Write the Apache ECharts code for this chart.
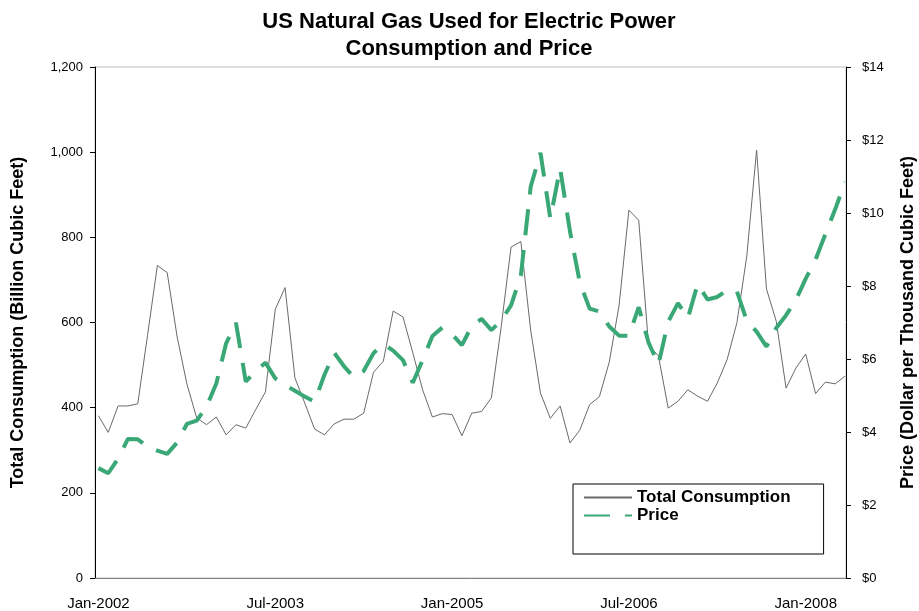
<!DOCTYPE html>
<html>
<head>
<meta charset="utf-8">
<script src="https://cdn.jsdelivr.net/npm/echarts@6/dist/echarts.min.js"></script>
<style>
html,body{margin:0;padding:0;background:#fff;}
#chart{width:919px;height:611px;}
</style>
</head>
<body>
<div id="chart"></div>
<script>
// Months Jan-2002 .. May-2008
const months = [
 'Jan-2002','Feb-2002','Mar-2002','Apr-2002','May-2002','Jun-2002','Jul-2002','Aug-2002','Sep-2002','Oct-2002','Nov-2002','Dec-2002',
 'Jan-2003','Feb-2003','Mar-2003','Apr-2003','May-2003','Jun-2003','Jul-2003','Aug-2003','Sep-2003','Oct-2003','Nov-2003','Dec-2003',
 'Jan-2004','Feb-2004','Mar-2004','Apr-2004','May-2004','Jun-2004','Jul-2004','Aug-2004','Sep-2004','Oct-2004','Nov-2004','Dec-2004',
 'Jan-2005','Feb-2005','Mar-2005','Apr-2005','May-2005','Jun-2005','Jul-2005','Aug-2005','Sep-2005','Oct-2005','Nov-2005','Dec-2005',
 'Jan-2006','Feb-2006','Mar-2006','Apr-2006','May-2006','Jun-2006','Jul-2006','Aug-2006','Sep-2006','Oct-2006','Nov-2006','Dec-2006',
 'Jan-2007','Feb-2007','Mar-2007','Apr-2007','May-2007','Jun-2007','Jul-2007','Aug-2007','Sep-2007','Oct-2007','Nov-2007','Dec-2007',
 'Jan-2008','Feb-2008','Mar-2008','Apr-2008','May-2008'
];
// Total consumption, billion cubic feet
const consumption = [
 381,342,404,404,409,570,734,717,568,456,376,360,
 378,336,360,352,395,437,631,682,470,411,350,336,
 362,373,373,387,483,509,627,613,529,442,378,386,
 384,334,387,391,423,590,777,790,582,434,375,404,
 317,347,407,426,507,640,864,840,547,522,399,415,
 442,427,415,458,513,600,756,1005,679,603,446,493,
 526,433,460,456,474
];
// Price, dollars per thousand cubic feet
const price = [
 3.01,2.87,3.27,3.81,3.80,3.60,3.49,3.40,3.71,4.22,4.31,4.69,
 5.33,6.43,6.99,5.38,5.67,5.90,5.47,5.29,5.13,4.97,4.83,5.56,
 6.17,5.80,5.50,5.67,6.16,6.41,6.23,5.97,5.35,5.97,6.63,6.86,
 6.68,6.38,6.90,7.10,6.79,7.05,7.47,8.28,10.72,11.65,9.85,11.22,
 9.50,8.10,7.38,7.30,6.89,6.64,6.64,7.42,6.45,5.85,7.02,7.53,
 7.12,8.05,7.63,7.70,7.89,7.85,7.05,6.75,6.34,6.85,7.20,7.62,
 8.20,8.72,9.42,10.10,10.85
];
// X tick labels (month indices)
const xTickIdx = [0,18,36,54,72];
const xTickLabels = ['Jan-2002','Jul-2003','Jan-2005','Jul-2006','Jan-2008'];

const consData = consumption.map((v,i)=>[i,v]);
const priceData = price.map((v,i)=>[i,v]);

const FONT = "'Liberation Sans', Arial, sans-serif";
const chart = echarts.init(document.getElementById('chart'), null, {renderer:'canvas'});
chart.setOption({
  animation:false,
  backgroundColor:'#fff',
  textStyle:{fontFamily:FONT},
  title:{
    text:'US Natural Gas Used for Electric Power\nConsumption and Price',
    left:469, top:8, padding:0, textAlign:'center',
    textStyle:{fontFamily:FONT, fontSize:22, fontWeight:'bold', color:'#000', lineHeight:27}
  },
  grid:{left:95, right:73, top:67, bottom:33, show:true, borderColor:'#c0c0c0', borderWidth:1, containLabel:false, outerBoundsMode:'none'},
  legend:{
    orient:'vertical', left:573, top:484,
    borderColor:'#000', borderWidth:1, borderRadius:0,
    padding:[5,33,30,10], itemGap:1, itemWidth:48, itemHeight:14,
    itemStyle:{opacity:0},
    textStyle:{fontFamily:FONT, fontSize:17, fontWeight:'bold', color:'#000'},
    data:['Total Consumption','Price']
  },
  xAxis:{
    type:'value', min:-0.35, max:76.1,
    axisLine:{show:true, onZero:false, lineStyle:{color:'#808080', width:1}},
    axisTick:{show:false},
    splitLine:{show:false},
    axisLabel:{
      customValues:xTickIdx, margin:18,
      fontFamily:FONT, fontSize:15, color:'#000',
      formatter:function(v){ const k = xTickIdx.indexOf(Math.round(v)); return k>=0 ? xTickLabels[k] : ''; }
    }
  },
  yAxis:[{
    type:'value', min:0, max:1200, interval:200, position:'left',
    name:'Total Consumption (Billion Cubic Feet)', nameLocation:'middle', nameRotate:90, nameGap:68,
    nameTextStyle:{fontFamily:FONT, fontSize:18, fontWeight:'bold', color:'#000'},
    axisLine:{show:true, onZero:false, lineStyle:{color:'#000', width:1}},
    axisTick:{show:true, length:5, lineStyle:{color:'#000'}},
    splitLine:{show:false},
    axisLabel:{fontFamily:FONT, fontSize:13, color:'#000', margin:12,
      formatter:function(v){ return v.toLocaleString('en-US'); }}
  },{
    type:'value', min:0, max:14, interval:2, position:'right',
    name:'Price (Dollar per Thousand Cubic Feet)', nameLocation:'middle', nameRotate:90, nameGap:53,
    nameTextStyle:{fontFamily:FONT, fontSize:18, fontWeight:'bold', color:'#000'},
    axisLine:{show:true, onZero:false, lineStyle:{color:'#000', width:1}},
    axisTick:{show:true, length:5, lineStyle:{color:'#000'}},
    splitLine:{show:false},
    axisLabel:{fontFamily:FONT, fontSize:13, color:'#000', margin:16,
      formatter:function(v){ return '$'+v; }}
  }],
  series:[{
    name:'Total Consumption', type:'line', yAxisIndex:0, data:consData,
    showSymbol:false, symbol:'none', z:2,
    lineStyle:{color:'#6a6a6a', width:1}, itemStyle:{color:'#555'}
  },{
    name:'Price', type:'line', yAxisIndex:1, data:priceData,
    showSymbol:false, symbol:'none', z:3,
    lineStyle:{color:'#3aa876', width:4, type:[26,15]}, itemStyle:{color:'#3aa876'}
  }]
});
</script>
</body>
</html>
